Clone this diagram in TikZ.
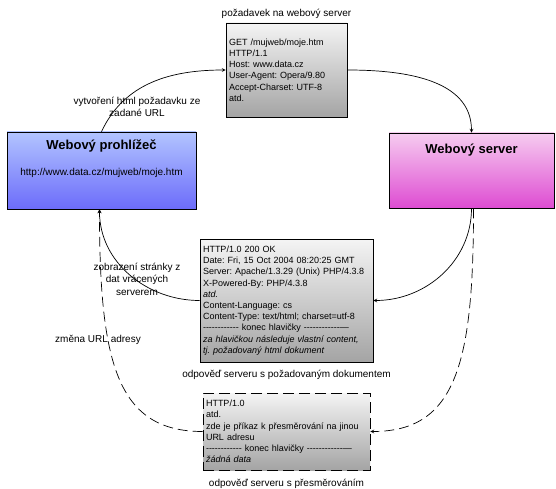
\documentclass[tikz,border=0pt]{standalone}
\usepackage{fontspec}
\setmainfont{Liberation Sans}
\usepackage{tikz}
\usetikzlibrary{arrows, positioning}
\definecolor{browsertop}{HTML}{B2C4FF}
\definecolor{browserbottom}{HTML}{6C6CFA}
\definecolor{servertop}{HTML}{F6CCF0}
\definecolor{serverbottom}{HTML}{DE4CD2}
\definecolor{msgtop}{HTML}{F4F4F4}
\definecolor{msgbottom}{HTML}{A4A4A4}
\def\hyrun{-{}-{}-{}-{}-{}-{}-{}-{}-{}-{}-{}-{}}
\frenchspacing
\tikzstyle{msg} = [rectangle, draw=black, top color=msgtop, bottom color=msgbottom, align=left, inner xsep=3pt, font=\fontsize{9}{11.2}\selectfont]
\tikzstyle{host} = [rectangle, draw=black, align=center, font=\fontsize{10}{12}\selectfont]
\tikzstyle{note} = [align=center, inner sep=1pt, font=\fontsize{10}{12.5}\selectfont]
\tikzstyle{arrow} = [->,>=stealth]
\tikzstyle{jump} = [arrow, dash pattern=on 10pt off 5pt]

\begin{document}
\begin{tikzpicture}[x=1pt, y=-1pt, node distance = 3pt, line width=0.7pt]
		\useasboundingbox (0,0) rectangle (556,489);
		\node (Request) [msg, minimum width=121pt, minimum height=94pt, text width=115pt] at (286.5,70) {GET /mujweb/moje.htm\\HTTP/1.1\\Host: www.data.cz\\User-Agent: Opera/9.80\\Accept-Charset: UTF-8\\atd.};
		\node (RequestLabel) [note, above = of Request] {požadavek na webový server};
		\node (Browser) [host, top color=browsertop, bottom color=browserbottom, minimum width=189pt, minimum height=77pt] at (101.5,170.5) {{\fontsize{13}{15}\selectfont\bfseries Webový prohlížeč}\\[14pt]http://www.data.cz/mujweb/moje.htm\\[14pt]\mbox{}};
		\node (Server) [host, top color=servertop, bottom color=serverbottom, minimum width=165pt, minimum height=75pt] at (471.5,170.5) {{\fontsize{13}{15}\selectfont\bfseries Webový server}\\[32pt]\mbox{}};
		\node (Response) [msg, minimum width=173pt, minimum height=123pt, text width=167pt] at (286.5,300.5) {HTTP/1.0 200 OK\\Date: Fri, 15 Oct 2004 08:20:25 GMT\\Server: Apache/1.3.29 (Unix) PHP/4.3.8\\X-Powered-By: PHP/4.3.8\\\textit{atd.}\\Content-Language: cs\\Content-Type: text/html; charset=utf-8\\\hyrun\ konec hlavičky \hyrun---\\\textit{za hlavičkou následuje vlastní content,}\\\textit{tj. požadovaný html dokument}};
		\node (ResponseLabel) [note, below = 6pt of Response] {odpověď serveru s požadovaným dokumentem};
		\node (Redirect) [msg, dash pattern=on 11pt off 5pt, minimum width=167pt, minimum height=77pt, text width=161pt] at (286.5,431.5) {HTTP/1.0\\atd.\\zde je příkaz k přesměrování na jinou\\URL adresu\\\hyrun\ konec hlavičky \hyrun---\\\textit{žádná data}};
		\node (RedirectLabel) [note, below = 7pt of Redirect] {odpověď serveru s přesměrováním};
		\node (RequestNote) [note] at (137,107) {vytvoření html požadavku ze\\zadané URL};
		\node (ShowNote) [note] at (137,279) {zobrazení stránky z\\dat vrácených\\serverem};
		\node (UrlNote) [note] at (98,340) {změna URL adresy};
		\coordinate (BrowserIn) at ([xshift=-2pt]Browser.south);
		\coordinate (ServerOut) at ([xshift=2pt]Server.south);
		\draw [arrow] (Browser.north) to[out=65, in=180] (Request.west);
		\draw [arrow] (Request.east) to[out=0, in=90] (Server.north);
		\draw [arrow] (Server.south) to[out=-90, in=0] (Response.east);
		\draw [arrow] (Response.west) to[out=180, in=-90] (BrowserIn);
		\draw [jump] (ServerOut) to[out=-90, in=0, out looseness=1.6, in looseness=0.9] (Redirect.east);
		\draw [jump] (Redirect.west) to[out=180, in=-90, out looseness=0.9, in looseness=1.6] (BrowserIn);
\end{tikzpicture}
\end{document}
